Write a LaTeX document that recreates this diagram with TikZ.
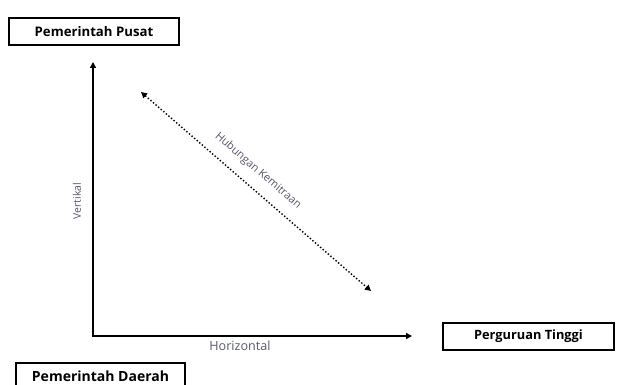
\documentclass[tikz,border=0pt]{standalone}
\usepackage{fontspec}
\setmainfont{Open Sans}
\usetikzlibrary{arrows.meta}
\definecolor{lbl}{HTML}{55596A}
\tikzset{
  box/.style={draw=black, line width=1.5pt, fill=white, minimum width=170pt, minimum height=27pt, inner sep=0pt, font=\bfseries\fontsize{13.2}{15}\selectfont},
  axis/.style={line width=1.5pt, -{Triangle[length=6pt,width=6pt]}},
  rel/.style={line width=1.4pt, dotted, {Triangle[length=6pt,width=6pt]}-{Triangle[length=6pt,width=6pt]}},
  lab/.style={text=lbl, inner sep=1pt}
}
\begin{document}
\begin{tikzpicture}[x=1pt,y=-1pt]
\useasboundingbox (0,0) rectangle (619,385);
\clip (0,0) rectangle (619,385);
\node[box] (pusat) at (94,31.5) {Pemerintah Pusat};
\node[box, minimum width=171pt, font=\bfseries\fontsize{12.8}{15}\selectfont] (pt) at (528.5,336.5) {Perguruan Tinggi};
\node[box, minimum width=169pt, font=\bfseries\fontsize{14}{15}\selectfont] (daerah) at (100.5,376.5) {Pemerintah Daerah};
\coordinate (o) at (93,336);
\coordinate (vtop) at (93,62);
\coordinate (hend) at (412,336);
\coordinate (r1) at (141,92);
\coordinate (r2) at (371,291);
\draw[axis] (o) -- (vtop);
\draw[axis] ([xshift=-0.75pt]o) -- (hend);
\draw[rel] (r1) -- (r2);
\node[lab, rotate=90, font=\fontsize{10.5}{12}\selectfont] (vert) at (77,201) {Vertikal};
\node[lab, font=\fontsize{12.6}{14}\selectfont] (hor) at (240,346) {Horizontal};
\node[lab, rotate=-41, font=\fontsize{11}{13}\selectfont] (hub) at (258,171) {Hubungan Kemitraan};
\end{tikzpicture}
\end{document}
